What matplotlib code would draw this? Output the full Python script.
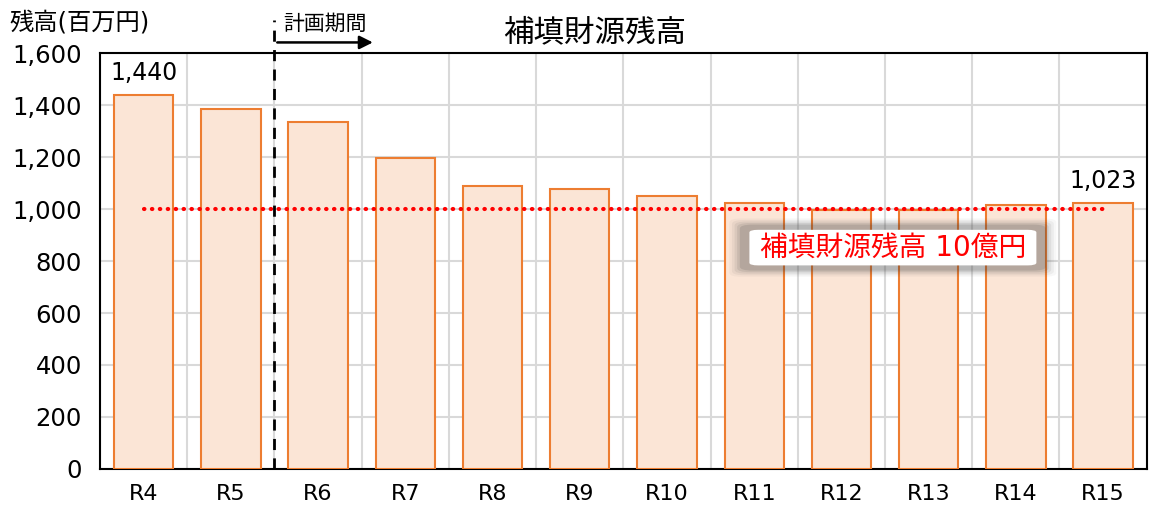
import matplotlib
matplotlib.use('Agg')
from matplotlib import pyplot as plt
from matplotlib.patches import FancyBboxPatch
import numpy as np

plt.rcParams['font.family'] = ['DejaVu Sans', 'Noto Sans CJK JP']

# data
years = ['R4', 'R5', 'R6', 'R7', 'R8', 'R9', 'R10', 'R11', 'R12', 'R13', 'R14', 'R15']
balance = [1440, 1387, 1335, 1196, 1088, 1079, 1052, 1022, 998, 998, 1016, 1023]
target = 1000
labelled = {0: '1,440', 11: '1,023'}

fig = plt.figure(figsize=(11.63, 5.08), dpi=100)
ax = fig.add_axes([0.086, 0.077, 0.9, 0.818])

x = np.arange(len(years))
ax.bar(x, balance, width=0.68, color='#fbe5d6', edgecolor='#ed7d31', linewidth=1.5, zorder=3)

ax.set_xlim(-0.5, len(years) - 0.5)
ax.set_ylim(0, 1600)
ax.set_yticks(range(0, 1601, 200))
ax.set_yticklabels(['{:,}'.format(v) for v in range(0, 1601, 200)], fontsize=17.5)
ax.set_xticks(x)
ax.set_xticklabels(years, fontsize=16)
ax.set_xticks(np.arange(-0.5, len(years)), minor=True)
ax.tick_params(axis='y', length=0, pad=13)
ax.tick_params(axis='x', length=0, pad=11)
ax.tick_params(axis='x', which='minor', length=0)
ax.grid(axis='y', color='#d9d9d9', linewidth=1.5, zorder=0)
ax.grid(axis='x', which='minor', color='#d9d9d9', linewidth=1.5, zorder=0)
for s in ax.spines.values():
    s.set_color('black')
    s.set_linewidth(1.5)

# 1,000 line
ax.plot([0, 11.05], [target, target], color='red', linestyle=(0, (0.1, 1.8)),
        linewidth=3, dash_capstyle='round', zorder=4)

# value labels
for i, txt in labelled.items():
    ax.text(x[i], balance[i] + 40, txt, ha='center', va='bottom', fontsize=17, zorder=5)

# planning period marker
ax.plot([1.5, 1.5], [0, 1730], color='black', linestyle=(0, (4, 3)), linewidth=2,
        clip_on=False, zorder=6)
ax.annotate('', xy=(2.66, 1642), xytext=(1.5, 1642),
            arrowprops=dict(arrowstyle='-|>', color='black', lw=1.8, mutation_scale=20),
            annotation_clip=False)
ax.text(1.6, 1715, '計画期間', fontsize=15, ha='left', va='center')

# titles
ax.text(5.17, 1681, '補填財源残高', fontsize=22, ha='center', va='center')
fig.text(0.008, 0.955, '残高(百万円)', fontsize=17.5, ha='left', va='center')

# label box with soft shadow
cx, cy, w, h = 8.59, 852, 3.45, 165
for k, a in enumerate([0.04, 0.06, 0.08, 0.11, 0.15]):
    g = 5 - k
    ax.add_patch(FancyBboxPatch((cx - w / 2 - g * 0.03, cy - h / 2 - g * 6), w + g * 0.06, h + g * 12,
                                boxstyle='round,pad=0,rounding_size=0.15', mutation_aspect=100,
                                facecolor='#404040', edgecolor='none', alpha=a, zorder=6))
ax.add_patch(FancyBboxPatch((cx - w / 2 + 0.08, cy - h / 2 + 14), w - 0.16, h - 28,
                            boxstyle='round,pad=0,rounding_size=0.1', mutation_aspect=100,
                            facecolor='white', edgecolor='none', zorder=7))
ax.text(cx, cy, '補填財源残高 10億円', color='red', fontsize=20, ha='center', va='center', zorder=8)

fig.savefig('out.png', dpi=100)
